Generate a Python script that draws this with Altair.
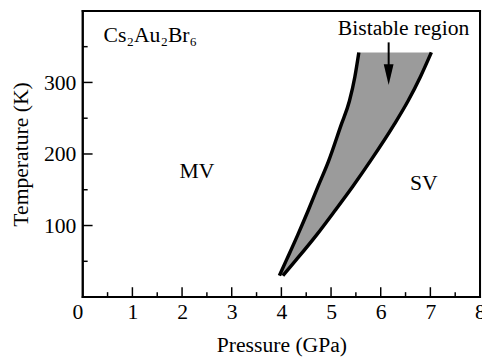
import altair as alt
import pandas as pd

# Boundary curves of the bistable region
T_vals = [30, 53, 87, 121, 155, 190, 240, 274, 308, 342]
left_P = [3.96, 4.11, 4.33, 4.54, 4.74, 4.95, 5.20, 5.37, 5.48, 5.56]
right_P = [4.03, 4.31, 4.71, 5.08, 5.44, 5.79, 6.26, 6.55, 6.80, 7.02]

# Tick positions
x_major = [1, 2, 3, 4, 5, 6, 7]
x_minor = [0.5, 1.5, 2.5, 3.5, 4.5, 5.5, 6.5, 7.5]
y_major = [100, 200, 300]
y_minor = [50, 150, 250, 350]
x_labels = [0, 1, 2, 3, 4, 5, 6, 7, 8]

# Plot frame as four thin filled bars (data units)
frame_P1 = [-0.02, 7.98, -0.02, -0.02]
frame_P2 = [0.02, 8.02, 8.02, 8.02]
frame_T1 = [-1.4, -1.4, -1.4, 398.6]
frame_T2 = [401.4, 401.4, 1.4, 401.4]

# Annotations
ann_text = ["MV", "SV", "Bistable region"]
ann_P = [2.30, 6.87, 6.46]
ann_T = [166, 150, 367]
formula_text = ["Cs₂Au₂Br₆"]
formula_P = [0.42]
formula_T = [357]
arrow_P = [6.16]
arrow_T_top = [356]
arrow_T_shaft_end = [318]
arrow_T_head = [311]

FONT = "Liberation Serif"
W, H = 404, 291

xs = alt.Scale(domain=[0, 8], nice=False, zero=False)
ys = alt.Scale(domain=[0, 400], nice=False, zero=False)

xaxis = alt.Axis(
    values=x_labels, ticks=False, domain=False, grid=False, format="d",
    labelFont=FONT, labelFontSize=22, labelColor="black", labelPadding=5,
    labelFlush=False,
    labelAlign={"condition": {"test": "datum.value === 0", "value": "right"}, "value": "center"},
    title="Pressure (GPa)", titleFont=FONT, titleFontSize=22,
    titleFontWeight="normal", titleColor="black", titlePadding=12,
)
yaxis = alt.Axis(
    values=y_major, ticks=False, domain=False, grid=False, format="d",
    labelFont=FONT, labelFontSize=22, labelColor="black", labelPadding=7,
    title="Temperature (K)", titleFont=FONT, titleFontSize=22,
    titleFontWeight="normal", titleColor="black", titlePadding=11,
)


def X(field, **kw):
    return alt.X(field, type="quantitative", scale=xs, axis=xaxis, **kw)


def Y(field, **kw):
    return alt.Y(field, type="quantitative", scale=ys, axis=yaxis, **kw)


region = pd.DataFrame({"T": T_vals, "left": left_P, "right": right_P})
curves = pd.concat([
    pd.DataFrame({"curve": "left", "P": left_P, "T": T_vals}),
    pd.DataFrame({"curve": "right", "P": right_P, "T": T_vals}),
])

area = alt.Chart(region).mark_area(orient="horizontal", color="#9b9b9b", interpolate="monotone").encode(
    y=Y("T"), x=X("left"), x2="right"
)
lines = alt.Chart(curves).mark_line(color="black", strokeWidth=3.5, interpolate="monotone", strokeCap="butt").encode(
    x=X("P"), y=Y("T"), detail="curve:N", order="T:Q"
)

frame = alt.Chart(pd.DataFrame({
    "p1": frame_P1, "p2": frame_P2, "t1": frame_T1, "t2": frame_T2
})).mark_rect(color="black", opacity=1).encode(
    x=X("p1"), x2="p2", y=Y("t1"), y2="t2"
)

xmaj = alt.Chart(pd.DataFrame({"p": x_major})).mark_rule(color="black", strokeWidth=1.5).encode(
    x=X("p"), y=alt.value(H), y2=alt.value(H - 10)
)
xmin = alt.Chart(pd.DataFrame({"p": x_minor})).mark_rule(color="black", strokeWidth=1.5).encode(
    x=X("p"), y=alt.value(H), y2=alt.value(H - 5)
)
ymaj = alt.Chart(pd.DataFrame({"t": y_major})).mark_rule(color="black", strokeWidth=1.5).encode(
    y=Y("t"), x=alt.value(0), x2=alt.value(10)
)
ymin = alt.Chart(pd.DataFrame({"t": y_minor})).mark_rule(color="black", strokeWidth=1.5).encode(
    y=Y("t"), x=alt.value(0), x2=alt.value(5)
)

labels = alt.Chart(pd.DataFrame({"txt": ann_text, "p": ann_P, "t": ann_T})).mark_text(
    font=FONT, fontSize=22, color="black", align="center", baseline="alphabetic"
).encode(x=X("p"), y=Y("t"), text="txt:N")

formula = alt.Chart(pd.DataFrame({"txt": formula_text, "p": formula_P, "t": formula_T})).mark_text(
    font=FONT, fontSize=22, color="black", align="left", baseline="alphabetic"
).encode(x=X("p"), y=Y("t"), text="txt:N")

arrow_df = pd.DataFrame({"p": arrow_P, "t1": arrow_T_top, "t2": arrow_T_shaft_end, "th": arrow_T_head})
shaft = alt.Chart(arrow_df).mark_rule(color="black", strokeWidth=2).encode(
    x=X("p"), y=Y("t1"), y2="t2"
)
head = alt.Chart(arrow_df).mark_point(
    shape="M-0.476,-1L0.476,-1L0,1Z", size=441, filled=True, color="black", opacity=1, strokeWidth=0
).encode(x=X("p"), y=Y("th"))

chart = alt.layer(area, lines, frame, xmaj, xmin, ymaj, ymin, labels, formula, shaft, head).properties(
    width=W, height=H,
    autosize=alt.AutoSizeParams(type="none"),
    padding={"left": 76, "top": 0, "right": 2, "bottom": 58},
).configure(
    font=FONT, background="white"
).configure_view(
    stroke="black", strokeWidth=2
).configure_axis(
    labelFont=FONT, titleFont=FONT, labelColor="black", titleColor="black"
)

chart.save("out.html", embed_options={"renderer": "svg", "actions": False})
